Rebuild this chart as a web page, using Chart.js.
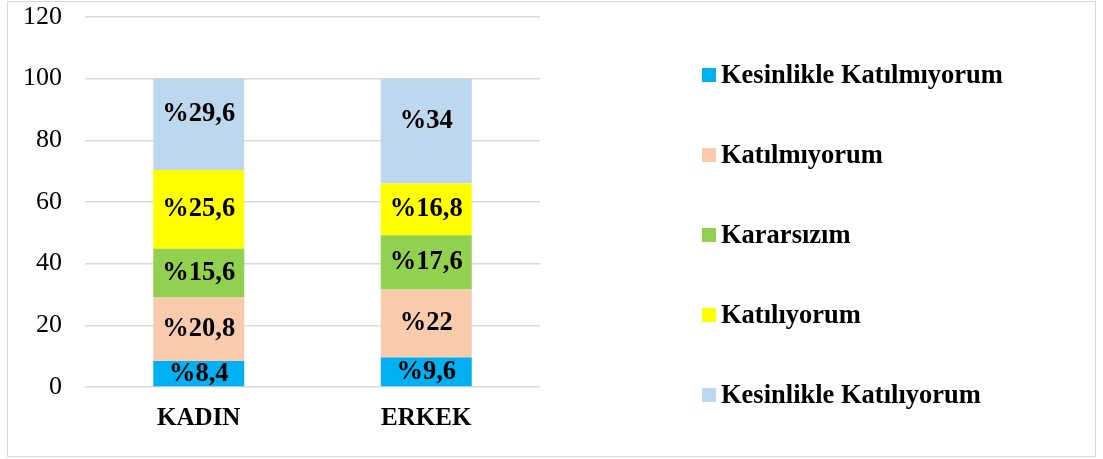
<!DOCTYPE html>
<html>
<head>
<meta charset="utf-8">
<script src="https://cdn.jsdelivr.net/npm/chart.js@4.4.1/dist/chart.umd.min.js"></script>
<style>
  body { margin: 0; background: #fff; }
  #wrap { position: relative; width: 1103px; height: 459px; }
  #frame { position: absolute; left: 7px; top: 1px; width: 1089px; height: 456px;
           border: 1.5px solid #d9d9d9; box-sizing: border-box; }
  #chart { position: absolute; left: 0; top: 0; }
</style>
</head>
<body>
<div id="wrap">
  <div id="frame"></div>
  <canvas id="chart" width="1103" height="459"></canvas>
</div>
<script>
// categories and series (percent)
const categories = ['KADIN', 'ERKEK'];
const seriesNames = [
  'Kesinlikle Katılmıyorum',
  'Katılmıyorum',
  'Kararsızım',
  'Katılıyorum',
  'Kesinlikle Katılıyorum'
];
const kesinlikleKatilmiyorum = [8.4, 9.6];
const katilmiyorum = [20.8, 22];
const kararsizim = [15.6, 17.6];
const katiliyorum = [25.6, 16.8];
const kesinlikleKatiliyorum = [29.6, 34];
const yTicks = [0, 20, 40, 60, 80, 100, 120];

const colors = ['#00B0F0', '#F8CBAD', '#92D050', '#FFFF00', '#BDD7EE'];
const serif = "'Times New Roman', 'Liberation Serif', serif";

const allValues = [kesinlikleKatilmiyorum, katilmiyorum, kararsizim, katiliyorum, kesinlikleKatiliyorum];

// value labels in the middle of each segment, e.g. %20,8
const segmentLabels = {
  id: 'segmentLabels',
  afterDatasetsDraw(chart) {
    const ctx = chart.ctx;
    ctx.save();
    ctx.font = 'bold 26.5px ' + serif;
    ctx.fillStyle = '#000';
    ctx.textAlign = 'center';
    ctx.textBaseline = 'middle';
    const last = chart.data.datasets.length - 1;
    chart.data.datasets.forEach((ds, i) => {
      chart.getDatasetMeta(i).data.forEach((bar, j) => {
        const txt = '%' + String(ds.data[j]).replace('.', ',');
        let y = (bar.y + bar.base) / 2;
        if (i === last) y -= 10; // excel nudges the top labels up a bit
        ctx.fillText(txt, bar.x, y);
      });
    });
    ctx.restore();
  }
};

// legend on the right, one item every 80px
const sideLegend = {
  id: 'sideLegend',
  afterDraw(chart) {
    const ctx = chart.ctx;
    ctx.save();
    ctx.font = 'bold 26.5px ' + serif;
    ctx.textBaseline = 'middle';
    ctx.textAlign = 'left';
    chart.data.datasets.forEach((ds, i) => {
      const cy = 75 + i * 80;
      ctx.fillStyle = ds.backgroundColor;
      ctx.fillRect(702, cy - 7, 14, 14);
      ctx.fillStyle = '#000';
      ctx.fillText(ds.label, 721, cy + 1);
    });
    ctx.restore();
  }
};

new Chart(document.getElementById('chart'), {
  type: 'bar',
  data: {
    labels: categories,
    datasets: seriesNames.map((name, i) => ({
      label: name,
      data: allValues[i],
      backgroundColor: colors[i],
      borderWidth: 0,
      categoryPercentage: 0.4,
      barPercentage: 1
    }))
  },
  options: {
    responsive: false,
    animation: false,
    layout: { padding: { left: 0, right: 563, top: 17, bottom: 0 } },
    plugins: {
      legend: { display: false },
      tooltip: { enabled: false }
    },
    scales: {
      x: {
        stacked: true,
        grid: { display: false },
        border: { display: false },
        ticks: { color: '#000', padding: 9, font: { family: serif, size: 25, weight: 'bold' } },
        afterFit(scale) { scale.height = 72; }
      },
      y: {
        stacked: true,
        min: yTicks[0],
        max: yTicks[yTicks.length - 1],
        grid: { color: '#d9d9d9', lineWidth: 1.5, drawTicks: false },
        border: { display: false },
        ticks: { color: '#000', padding: 23, stepSize: yTicks[1] - yTicks[0],
                 font: { family: serif, size: 26 } },
        afterFit(scale) {
          scale.width = 85;
          // tick padding would otherwise push the plot top down
          scale.paddingTop = 10;
          scale.paddingBottom = 10;
        }
      }
    }
  },
  plugins: [segmentLabels, sideLegend]
});
</script>
</body>
</html>
